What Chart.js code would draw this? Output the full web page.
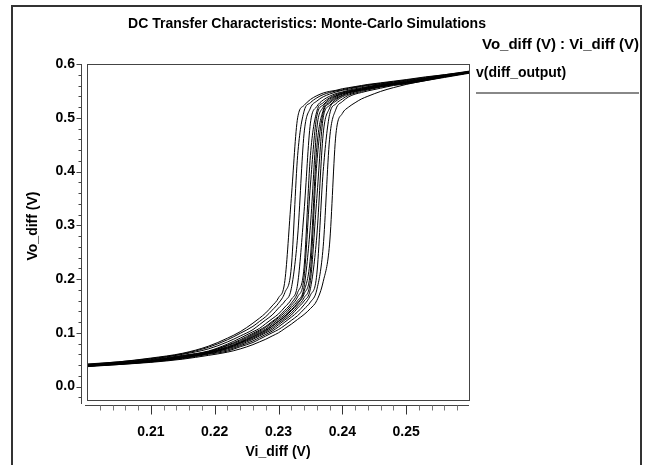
<!DOCTYPE html>
<html>
<head>
<meta charset="utf-8">
<script src="https://cdn.jsdelivr.net/npm/chart.js"></script>
<style>
  body { margin: 0; background: #fff; }
  canvas { display: block; }
</style>
</head>
<body>
<canvas id="dc-chart" width="652" height="465"></canvas>
<script>
// sweep points of Vi_diff (V), shared by every Monte-Carlo run
let vi_diff = [0.200, 0.205, 0.210, 0.215, 0.219, 0.222, 0.224, 0.226, 0.227, 0.228, 0.229,
  0.230, 0.231, 0.232, 0.233, 0.234, 0.235, 0.236, 0.237, 0.238, 0.239, 0.240, 0.241, 0.242, 0.243, 0.244,
  0.246, 0.248, 0.250, 0.253, 0.256, 0.260];

// Vo_diff (V) for each run
let run1 = [0.042,0.046,0.053,0.062,0.075,0.090,0.102,0.118,0.127,0.137,0.150, 0.165,0.197,0.350,0.500,0.523,0.534,0.541,0.546,0.549,0.551,0.554,0.556,0.558,0.560,0.562, 0.565,0.568,0.571,0.576,0.580,0.587];
let run2 = [0.041,0.046,0.052,0.061,0.073,0.087,0.099,0.112,0.121,0.130,0.142, 0.155,0.175,0.221,0.430,0.512,0.528,0.537,0.543,0.547,0.550,0.552,0.555,0.557,0.559,0.561, 0.564,0.567,0.570,0.575,0.580,0.586];
let run3 = [0.040,0.045,0.051,0.060,0.070,0.083,0.094,0.106,0.115,0.124,0.133, 0.146,0.159,0.182,0.280,0.470,0.518,0.531,0.539,0.544,0.548,0.551,0.553,0.556,0.558,0.560, 0.563,0.566,0.569,0.574,0.579,0.586];
let run4 = [0.040,0.044,0.050,0.058,0.066,0.079,0.090,0.102,0.108,0.117,0.126, 0.135,0.148,0.162,0.191,0.325,0.490,0.521,0.533,0.540,0.545,0.548,0.551,0.554,0.556,0.558, 0.562,0.565,0.568,0.573,0.579,0.585];
let run5 = [0.039,0.044,0.049,0.057,0.065,0.077,0.087,0.099,0.105,0.112,0.121, 0.130,0.142,0.155,0.175,0.221,0.430,0.512,0.528,0.537,0.543,0.547,0.550,0.552,0.555,0.557, 0.561,0.564,0.567,0.573,0.578,0.585];
let run6 = [0.039,0.043,0.048,0.057,0.065,0.076,0.085,0.097,0.103,0.110,0.119, 0.128,0.138,0.151,0.167,0.203,0.375,0.503,0.524,0.535,0.541,0.546,0.549,0.552,0.554,0.557, 0.561,0.564,0.566,0.572,0.578,0.585];
let run7 = [0.039,0.043,0.048,0.056,0.064,0.074,0.083,0.095,0.101,0.107,0.116, 0.125,0.134,0.147,0.160,0.185,0.300,0.480,0.520,0.532,0.540,0.545,0.548,0.551,0.553,0.556, 0.560,0.563,0.566,0.572,0.578,0.585];
let run8 = [0.039,0.043,0.048,0.055,0.063,0.073,0.082,0.093,0.099,0.105,0.113, 0.122,0.131,0.143,0.156,0.177,0.241,0.445,0.514,0.529,0.538,0.544,0.547,0.550,0.553,0.555, 0.559,0.563,0.566,0.572,0.578,0.585];
let run9 = [0.039,0.043,0.047,0.055,0.063,0.072,0.081,0.092,0.098,0.104,0.112, 0.121,0.130,0.141,0.154,0.172,0.215,0.415,0.509,0.527,0.536,0.542,0.547,0.550,0.552,0.555, 0.559,0.563,0.565,0.571,0.577,0.584];
let run10 = [0.038,0.042,0.047,0.054,0.062,0.071,0.080,0.090,0.096,0.102,0.109, 0.118,0.127,0.137,0.150,0.165,0.197,0.350,0.500,0.523,0.534,0.541,0.546,0.549,0.551,0.554, 0.558,0.562,0.565,0.571,0.577,0.584];
let run11 = [0.038,0.042,0.047,0.054,0.062,0.070,0.078,0.088,0.094,0.100,0.106, 0.115,0.124,0.133,0.146,0.159,0.182,0.280,0.470,0.518,0.531,0.539,0.544,0.548,0.551,0.553, 0.558,0.562,0.565,0.571,0.577,0.584];
let run12 = [0.038,0.042,0.046,0.053,0.061,0.068,0.076,0.085,0.091,0.097,0.103, 0.111,0.120,0.129,0.139,0.152,0.170,0.209,0.400,0.506,0.526,0.535,0.542,0.546,0.549,0.552, 0.557,0.561,0.564,0.570,0.576,0.584];
let run13 = [0.038,0.041,0.046,0.052,0.060,0.066,0.074,0.082,0.088,0.094,0.100, 0.106,0.114,0.123,0.132,0.144,0.157,0.180,0.260,0.460,0.516,0.530,0.539,0.544,0.547,0.550, 0.555,0.560,0.563,0.569,0.576,0.584];
let run14 = [0.037,0.041,0.045,0.051,0.058,0.064,0.070,0.078,0.083,0.088,0.094, 0.100,0.108,0.116,0.125,0.134,0.145,0.160,0.195,0.265,0.470,0.508,0.520,0.528,0.535,0.540, 0.549,0.556,0.562,0.569,0.575,0.583];

let runs = [run1, run2, run3, run4, run5, run6, run7, run8, run9, run10, run11, run12, run13, run14];

let chartTitle = "DC Transfer Characteristics: Monte-Carlo Simulations";
let plotLabel = "Vo_diff (V) : Vi_diff (V)";
let traceName = "v(diff_output)";
let xTitle = "Vi_diff (V)";
let yTitle = "Vo_diff (V)";

const FAMILY = '"Liberation Sans", Arial, sans-serif';
const FONT = 'bold 14px ' + FAMILY;

// box, offset axes with tick marks, and the header texts
const frame = {
  id: 'frame',
  beforeDraw(chart) {
    const ctx = chart.ctx;
    ctx.save();
    ctx.fillStyle = '#fff';
    ctx.fillRect(0, 0, chart.width, chart.height);
    ctx.restore();
  },
  afterDraw(chart) {
    const ctx = chart.ctx;
    const a = chart.chartArea;
    const xs = chart.scales.x, ys = chart.scales.y;
    ctx.save();

    // outer window border
    ctx.strokeStyle = '#333';
    ctx.lineWidth = 2;
    ctx.strokeRect(12, 6, 629, 470);

    // plot box
    ctx.lineWidth = 1;
    ctx.strokeStyle = '#444';
    ctx.strokeRect(a.left + 0.5, a.top + 0.5, a.right - a.left - 1, a.bottom - a.top);

    // y axis line + ticks
    let ax = a.left - 5.5;
    ctx.beginPath();
    ctx.moveTo(ax, a.top);
    ctx.lineTo(ax, a.bottom + 4);
    ctx.stroke();
    ys.ticks.forEach(t => {
      let py = Math.round(ys.getPixelForValue(t.value)) + 0.5;
      let major = Math.round(t.value * 100) % 10 === 0;
      ctx.beginPath();
      ctx.moveTo(ax, py);
      ctx.lineTo(ax - (major ? 5 : 3), py);
      ctx.stroke();
    });

    // x axis line + ticks
    let ay = a.bottom + 5.5;
    ctx.beginPath();
    ctx.moveTo(a.left - 2, ay);
    ctx.lineTo(a.right - 1, ay);
    ctx.stroke();
    xs.ticks.forEach(t => {
      if (t.value <= xs.min + 1e-9 || t.value >= xs.max - 1e-9) return;
      let px = Math.round(xs.getPixelForValue(t.value)) + 0.5;
      let major = Math.round(t.value * 1000) % 10 === 0;
      ctx.strokeStyle = major ? '#333' : '#777';
      ctx.beginPath();
      ctx.moveTo(px, ay);
      ctx.lineTo(px, ay + (major ? 9 : 5));
      ctx.stroke();
    });

    // texts
    ctx.fillStyle = '#000';
    ctx.textBaseline = 'middle';
    ctx.textAlign = 'center';
    ctx.font = FONT;
    ctx.fillText(chartTitle, 307, 24);
    ctx.fillText(xTitle, 278, 452);
    ctx.textAlign = 'left';
    ctx.fillText(traceName, 476, 73);
    ctx.textAlign = 'right';
    ctx.font = 'bold 15px ' + FAMILY;
    ctx.fillText(plotLabel, 639, 45);
    ctx.font = FONT;

    ctx.save();
    ctx.translate(33, 226);
    ctx.rotate(-Math.PI / 2);
    ctx.textAlign = 'center';
    ctx.fillText(yTitle, 0, 0);
    ctx.restore();

    // line under the trace name
    ctx.strokeStyle = '#888';
    ctx.lineWidth = 2;
    ctx.beginPath();
    ctx.moveTo(476, 93);
    ctx.lineTo(639, 93);
    ctx.stroke();

    ctx.restore();
  }
};

let datasets = runs.map((ys, k) => ({
  label: 'run ' + (k + 1),
  data: vi_diff.map((x, i) => ({x: x, y: ys[i]})),
  borderColor: '#000',
  borderWidth: 1,
  pointRadius: 0,
  fill: false,
  cubicInterpolationMode: 'monotone'
}));

let tickFont = {family: FAMILY, size: 14, weight: 'bold'};

let myChart = new Chart(document.getElementById('dc-chart'), {
  type: 'line',
  data: {datasets: datasets},
  options: {
    responsive: false,
    devicePixelRatio: 1,
    animation: false,
    events: [],
    layout: {padding: {left: 0, top: 64, right: 182, bottom: 0}},
    plugins: {legend: {display: false}, tooltip: {enabled: false}, title: {display: false}},
    scales: {
      x: {
        type: 'linear',
        min: 0.2,
        max: 0.26,
        grid: {display: false, drawTicks: false},
        border: {display: false},
        ticks: {
          stepSize: 0.002,
          autoSkip: false,
          maxRotation: 0,
          padding: 24,
          color: '#000',
          font: tickFont,
          callback: v => {
            let m = Math.round(v * 1000);
            return (m % 10 === 0 && m > 200 && m < 260) ? (m / 1000).toFixed(2) : '';
          }
        },
        afterFit: s => { s.height = 65; }
      },
      y: {
        min: -0.025,
        max: 0.6,
        grid: {display: false, drawTicks: false},
        border: {display: false},
        ticks: {
          stepSize: 0.02,
          includeBounds: false,
          autoSkip: false,
          padding: 12,
          color: '#000',
          font: tickFont,
          callback: v => {
            let m = Math.round(v * 100);
            return (m % 10 === 0 && m >= 0) ? (m / 100).toFixed(1) : '';
          }
        },
        afterFit: s => { s.width = 87; }
      }
    }
  },
  plugins: [frame]
});
</script>
</body>
</html>
